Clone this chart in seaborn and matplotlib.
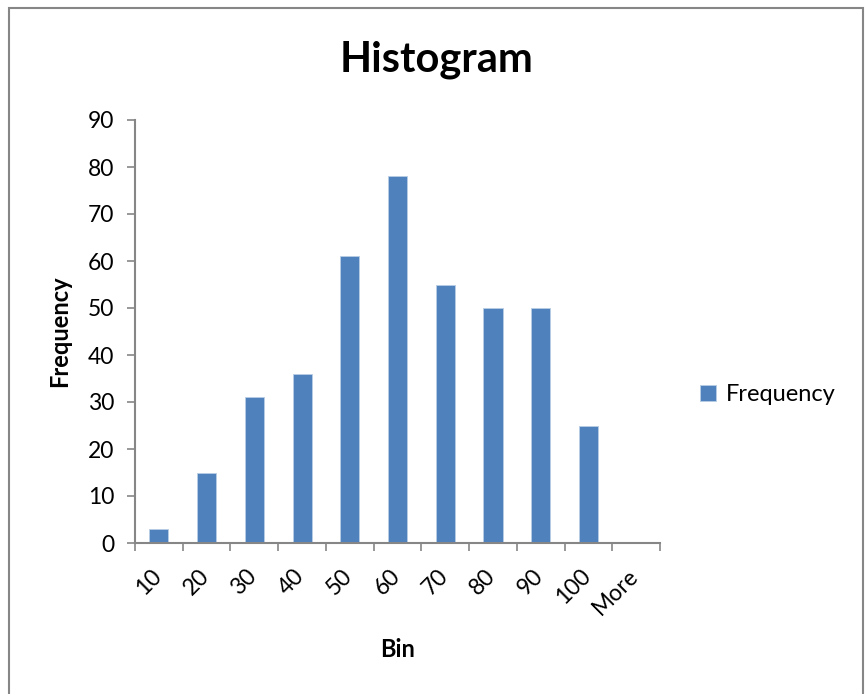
import numpy as np
import pandas as pd
import matplotlib
matplotlib.use("Agg")
import matplotlib.pyplot as plt
import matplotlib.transforms as mtransforms
from matplotlib.patches import Rectangle
import seaborn as sns

# Histogram data (Excel style bins)
bins = ["10", "20", "30", "40", "50", "60", "70", "80", "90", "100", "More"]
frequency = [3, 15, 31, 36, 61, 78, 55, 50, 50, 25, 0]
series_name = "Frequency"

df = pd.DataFrame({"Bin": bins, "Frequency": frequency, "series": series_name})

sns.set_style("white")
plt.rcParams["font.family"] = ["Lato", "DejaVu Sans"]
plt.rcParams["text.color"] = "black"
plt.rcParams["xtick.color"] = "black"
plt.rcParams["ytick.color"] = "black"
plt.rcParams["axes.labelcolor"] = "black"

gray = "#868686"
fig = plt.figure(figsize=(8.65, 6.94), dpi=100)
ax = fig.add_axes([135 / 865, 1 - 543 / 694, (660 - 135) / 865, (543 - 120) / 694])

sns.barplot(data=df, x="Bin", y="Frequency", hue="series", palette=["#4F81BD"],
            saturation=1, width=0.4, dodge=False, edgecolor="#b9cde5",
            linewidth=0.6, ax=ax)

ax.set_xlim(-0.5, len(bins) - 0.5)
ax.set_ylim(0, 90)
ax.set_yticks(np.arange(0, 91, 10))

# category boundaries get the tick marks, labels sit in the middle
ax.set_xticks(np.arange(-0.5, len(bins), 1.0), minor=True)
ax.tick_params(axis="x", which="major", length=0, pad=16)
ax.tick_params(axis="x", which="minor", length=6, width=1.2, color=gray, direction="out", bottom=True)
ax.tick_params(axis="y", length=6, width=1.2, color=gray, direction="out", left=True, pad=9,
               labelsize=16.5, labelcolor="black")
ax.set_xticks(range(len(bins)))
ax.set_xticklabels(bins, rotation=45, ha="right", va="top", rotation_mode="anchor",
                   fontsize=16.5, color="black")
shift = mtransforms.ScaledTranslation(-6 / 72, 0, fig.dpi_scale_trans)
for lbl in ax.get_xticklabels():
    lbl.set_transform(lbl.get_transform() + shift)

for side in ["top", "right"]:
    ax.spines[side].set_visible(False)
for side in ["left", "bottom"]:
    ax.spines[side].set_color(gray)
    ax.spines[side].set_linewidth(1.5)

ax.set_xlabel("Bin", fontsize=17, fontweight="bold", labelpad=14, color="black")
ax.set_ylabel("Frequency", fontsize=17, fontweight="bold", labelpad=12, color="black")

fig.text(437 / 865, 1 - 60 / 694, "Histogram", fontsize=30, fontweight="bold",
         ha="center", va="center", color="black")

sns.move_legend(ax, loc="center left", bbox_to_anchor=(1.035, 0.35), frameon=False,
                title=None, fontsize=17, handlelength=0.7, handleheight=0.7,
                handletextpad=0.4)

# outer chart border
fig.patches.append(Rectangle((9 / 865, -0.1), (863 - 9) / 865, 1 - 8 / 694 + 0.1,
                             transform=fig.transFigure, fill=False,
                             edgecolor=gray, linewidth=1.5))

fig.savefig("out.png", dpi=100)
